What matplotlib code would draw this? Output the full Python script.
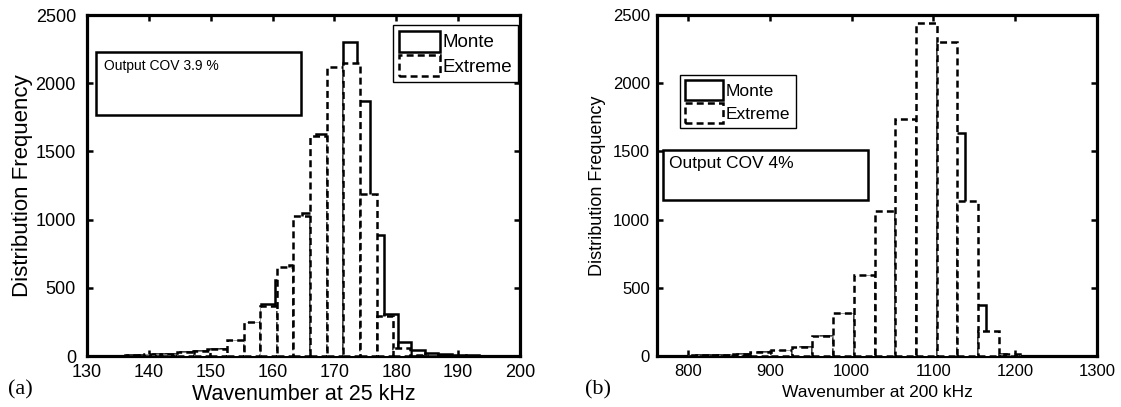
import numpy as np
import matplotlib
matplotlib.use('Agg')
import matplotlib.pyplot as plt
from matplotlib.patches import Rectangle, Patch

plt.rcParams['font.family'] = ['Liberation Sans', 'DejaVu Sans']
plt.rcParams['lines.scale_dashes'] = False

# ---- (a) 25 kHz : bin edges and counts
ext_a_edges = [131.10, 133.79, 136.48, 139.17, 141.86, 144.55, 147.24, 149.93,
               152.62, 155.31, 158.00, 160.69, 163.38, 166.07, 168.76, 171.45,
               174.14, 176.83, 179.52, 182.21, 184.90]
ext_a_counts = [0, 3, 8, 12, 18, 28, 40, 55, 120, 250, 370, 650, 1030, 1615,
                2120, 2150, 1185, 295, 60, 10]

mc_a_edges = [131.8, 134.0, 136.2, 138.4, 140.6, 142.8, 145.0, 147.2, 149.4,
              151.6, 153.8, 156.0, 158.2, 160.4, 162.6, 164.8, 167.0, 169.2,
              171.4, 173.6, 175.8, 178.0, 180.2, 182.4, 184.6, 186.8, 189.0,
              191.2, 193.4, 195.6, 197.8]
mc_a_counts = [0, 2, 5, 10, 12, 18, 26, 38, 50, 50, 110, 240, 380, 560, 670,
               1045, 1625, 2100, 2300, 1870, 884, 310, 100, 45, 25, 15, 8, 4,
               2, 1]

# ---- (b) 200 kHz
ext_b_edges = [774.7, 800.0, 825.4, 850.7, 876.0, 901.4, 926.7, 952.0, 977.4,
               1002.7, 1028.0, 1053.4, 1078.7, 1104.0, 1129.3, 1154.7, 1180.0,
               1205.4]
ext_b_counts = [3, 5, 8, 15, 30, 43, 68, 150, 315, 595, 1063, 1735, 2440, 2300,
                1136, 182, 15]

mc_b_edges = [784.5, 809.8, 835.1, 860.4, 885.7, 911.0, 936.3, 961.6, 986.9,
              1012.2, 1037.5, 1062.8, 1088.1, 1113.4, 1138.7, 1164.0, 1189.3,
              1214.6]
mc_b_counts = [2, 4, 7, 14, 28, 40, 65, 145, 305, 585, 1050, 1720, 2280, 1638,
               376, 12, 2]

dash = (0, (5.0, 3.0))
lw_bar = 1.8


def hist_bars(ax, edges, counts, ls, z):
    e = np.asarray(edges)
    ax.bar(e[:-1], counts, width=np.diff(e), align='edge', facecolor='white',
           edgecolor='k', linewidth=lw_bar, linestyle=ls, zorder=z)


def style(ax, tick_fs, ypad):
    for s in ax.spines.values():
        s.set_linewidth(2.3)
    ax.tick_params(direction='in', length=4, width=1.8, top=True, right=True,
                   labelsize=tick_fs)
    ax.tick_params(axis='x', pad=5.5)
    ax.tick_params(axis='y', pad=ypad)


fig = plt.figure(figsize=(11.21, 4.07), dpi=100)

# ---------------- (a)
ax1 = fig.add_axes([0.0776, 0.1253, 0.3863, 0.8378])
hist_bars(ax1, mc_a_edges, mc_a_counts, '-', 3)
hist_bars(ax1, ext_a_edges, ext_a_counts, dash, 4)
ax1.set_xlim(130, 200)
ax1.set_ylim(0, 2500)
ax1.set_xticks(range(130, 201, 10))
ax1.set_yticks(range(0, 2501, 500))
style(ax1, 13, 8)
ax1.set_xlabel('Wavenumber at 25 kHz', fontsize=15.5)
ax1.xaxis.set_label_coords(0.5, -0.112)
ax1.xaxis.label.set_va('center')
ax1.set_ylabel('Distribution Frequency', fontsize=16)
ax1.yaxis.set_label_coords(-0.150, 0.5)
ax1.yaxis.label.set_va('center')

ax1.add_patch(Rectangle((131.5, 1767), 33.1, 462, facecolor='white',
                        edgecolor='k', linewidth=1.8, zorder=5))
ax1.text(132.7, 2125, 'Output COV 3.9 %', fontsize=10, va='center', zorder=6)

h_mc = Patch(facecolor='white', edgecolor='k', linewidth=lw_bar, linestyle='-')
h_ex = Patch(facecolor='white', edgecolor='k', linewidth=lw_bar, linestyle=dash)
leg1 = ax1.legend([h_mc, h_ex], ['Monte', 'Extreme'], loc='upper right',
                  bbox_to_anchor=(0.995, 0.971), fontsize=13.5, fancybox=False,
                  framealpha=1, edgecolor='k', handlelength=2.2,
                  handleheight=1.35, handletextpad=0.15, borderpad=0.3,
                  labelspacing=0.2, borderaxespad=0)
leg1.get_frame().set_linewidth(1.0)
leg1.set_zorder(7)

# ---------------- (b)
ax2 = fig.add_axes([0.5861, 0.1253, 0.3925, 0.8378])
hist_bars(ax2, mc_b_edges, mc_b_counts, '-', 3)
hist_bars(ax2, ext_b_edges, ext_b_counts, dash, 4)
ax2.set_xlim(762, 1300)
ax2.set_ylim(0, 2500)
ax2.set_xticks(range(800, 1301, 100))
ax2.set_yticks(range(0, 2501, 500))
style(ax2, 12, 5)
ax2.set_xlabel('Wavenumber at 200 kHz', fontsize=12.5)
ax2.xaxis.set_label_coords(0.5, -0.108)
ax2.xaxis.label.set_va('center')
ax2.set_ylabel('Distribution Frequency', fontsize=13)
ax2.yaxis.set_label_coords(-0.136, 0.5)
ax2.yaxis.label.set_va('center')

ax2.add_patch(Rectangle((768.8, 1144), 251.5, 366, facecolor='white',
                        edgecolor='k', linewidth=1.8, zorder=5))
ax2.text(776.2, 1410, 'Output COV 4%', fontsize=12.5, va='center', zorder=6)

leg2 = ax2.legend([h_mc, h_ex], ['Monte', 'Extreme'], loc='upper left',
                  bbox_to_anchor=(0.052, 0.824), fontsize=12.5, fancybox=False,
                  framealpha=1, edgecolor='k', handlelength=2.2,
                  handleheight=1.35, handletextpad=0.15, borderpad=0.3,
                  labelspacing=0.2, borderaxespad=0)
leg2.get_frame().set_linewidth(1.0)
leg2.set_zorder(7)

fig.text(0.007, 0.043, '(a)', fontsize=16, family='Liberation Serif', va='center')
fig.text(0.522, 0.043, '(b)', fontsize=16, family='Liberation Serif', va='center')

fig.savefig('out.png', dpi=100)
